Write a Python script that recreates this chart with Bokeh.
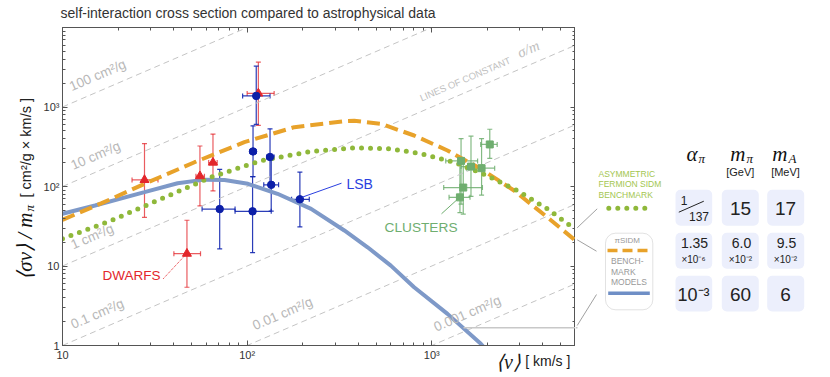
import math
from bokeh.plotting import figure
from bokeh.layouts import row, column
from bokeh.models import (ColumnDataSource, Whisker, TeeHead, Label, BoxAnnotation, Arrow,
                          FixedTicker, CustomJSTickFormatter, LogAxis, Range1d)
from bokeh.embed import file_html
from bokeh.resources import INLINE

# ---------------- data ----------------
# DWARFS (red triangles)
dw_x = [27.8, 47.2, 55.5, 65.3, 115]
dw_y = [121, 14.3, 135, 200, 1480]
dw_ylo = [41, 5.4, 57, 88, 589]
dw_yhi = [347, 37.6, 323, 457, 3660]
dw_xlo = [23.8, 40.1, 52.8, 61.9, 100]
dw_xhi = [32.9, 55.9, 58.7, 68.8, 140]

# LSB (blue circles)
lsb_x = [112, 107.6, 133, 135, 71, 107, 193]
lsb_y = [1380, 276, 235, 105, 52, 48.7, 69]
lsb_ylo = [606, 133, 105, 49, 16.4, 14.7, 31]
lsb_yhi = [3260, 580, 531, 235, 164, 133, 152]
lsb_xlo = [94.5, 103.5, 127.6, 123, 57, 86, 174]
lsb_xhi = [133, 112, 140, 148, 86, 135, 217]

# CLUSTERS (green squares)
cl_x = [1440, 1630, 1860, 2060, 1480, 1420]
cl_y = [210, 178, 170, 338, 97, 73]
cl_ylo = [60, 75, 78, 226, 45, 47]
cl_yhi = [400, 430, 400, 525, 210, 205]
cl_xlo = [1190, 1440, 1540, 1840, 1160, 1240]
cl_xhi = [1770, 1880, 2190, 2260, 1880, 1610]

# benchmark curves
blue_x = [10, 15, 27.8, 42, 58.8, 75.4, 101, 146, 222, 336, 449, 600, 802, 1216, 1842, 2100]
blue_y = [45.4, 57.7, 84.8, 110, 122, 121, 108, 81, 52.4, 28, 17.2, 10.1, 5.41, 2.5, 1.05, 0.75]

orange_x = [10, 16.3, 27.8, 51.9, 96.6, 180, 336, 380, 530, 802, 1216, 1842, 2787, 4217, 6000]
orange_y = [38.1, 61.7, 108, 202, 361, 557, 663, 670, 615, 438, 284, 167, 89, 41.1, 20.9]

green_x = [10, 18.4, 34.3, 63.8, 119, 222, 380, 600, 871, 1320, 2000, 2900, 4217, 5930]
green_y = [22, 37.4, 70, 131, 212, 276, 307, 298, 258, 202, 137, 89, 52.4, 29.4]

# lines of constant sigma/m  [cm^2/g]
sigma_m = [100, 10, 1, 0.1, 0.01, 0.001]
sigma_labels = ["100  cm²/g", "10  cm²/g", "1 cm²/g", "0.1 cm²/g", "0.01 cm²/g", "0.001 cm²/g"]
sigma_label_x = [11.4, 11.6, 11.6, 11.6, 112, 1074]

x_major = [10, 100, 1000]
x_minor = [20, 30, 40, 50, 60, 70, 80, 90, 200, 300, 400, 500, 600, 700, 800, 900,
           2000, 3000, 4000, 5000, 6000]
y_major = [1, 10, 100, 1000]
y_minor = [2, 3, 4, 5, 6, 7, 8, 9, 20, 30, 40, 50, 60, 70, 80, 90,
           200, 300, 400, 500, 600, 700, 800, 900, 2000, 3000, 4000, 5000, 6000, 7000, 8000, 9000]

# table of benchmark parameters
table_cols = ["α", "m", "m"]
table_subs = ["π", "π", "A"]
table_units = ["", "[GeV]", "[MeV]"]
row1 = ["15", "17"]
row2_main = ["1.35", "6.0", "9.5"]
row2_exp = ["×10⁻⁶", "×10⁻²", "×10⁻²"]
row3 = ["10⁻³", "60", "6"]

# ---------------- layout constants (page pixels) ----------------
XMIN, XMAX, YMIN, YMAX = 10, 6000, 1, 10000
PAGE_W, PAGE_H = 828, 375
TOP_H = 27            # title strip height (= frame top)
LEFT_W = 40           # y-label strip width
FRAME_L, FRAME_R, FRAME_B = 61, 575, 345
SANS = "Liberation Sans"
SERIF = "Liberation Serif"
BODY_H = PAGE_H - TOP_H
BOT = PAGE_H - FRAME_B


def blank_fig(w, h, x0, x1, y_top, y_bot, bottom=0):
    f = figure(width=w, height=h, x_range=Range1d(x0, x1), y_range=Range1d(y_bot, y_top),
               x_axis_location=None, y_axis_location=None, output_backend="svg",
               toolbar_location=None, min_border_left=0, min_border_right=0,
               min_border_top=0, min_border_bottom=bottom)
    f.xgrid.visible = False
    f.ygrid.visible = False
    f.outline_line_color = None
    f.background_fill_color = "white"
    f.border_fill_color = "white"
    return f


def lab(f, X, Y, text, size, color, align="left", baseline="middle", font=SANS,
        style="normal", angle=0.0):
    f.add_layout(Label(x=X, y=Y, text=text, text_font=font, text_font_size=f"{size}px",
                       text_color=color, text_align=align, text_baseline=baseline,
                       text_font_style=style, angle=angle))


# ---------------- title strip ----------------
ft = blank_fig(PAGE_W, TOP_H, 0, PAGE_W, 0, TOP_H)
lab(ft, 60, 12.5, "self-interaction cross section compared to astrophysical data", 14, "#333333")

# ---------------- y-label strip ----------------
fl = blank_fig(LEFT_W, BODY_H, 0, LEFT_W, TOP_H, FRAME_B, BOT)
lab(fl, 24, 212, "⟨σv⟩ / m", 21, "#111111", align="right", font=SERIF, style="italic",
    angle=math.pi / 2)
lab(fl, 29, 211, "π", 13, "#111111", align="left", font=SERIF, style="italic",
    angle=math.pi / 2)
lab(fl, 25, 197, "[ cm²/g × km/s ]", 14.5, "#222222", align="left", angle=math.pi / 2)

# ---------------- main plot ----------------
p = figure(width=FRAME_R - LEFT_W, height=BODY_H, x_axis_type="log", y_axis_type="log",
           x_range=(XMIN, XMAX), y_range=(YMIN, YMAX), output_backend="svg",
           toolbar_location=None, min_border_left=FRAME_L - LEFT_W, min_border_right=0,
           min_border_top=0, min_border_bottom=BOT)
p.xgrid.visible = False
p.ygrid.visible = False
p.outline_line_color = "#555555"
p.background_fill_color = "white"
p.border_fill_color = "white"

fmt = CustomJSTickFormatter(code="""
const e = Math.round(Math.log10(tick));
const sup = {2: '\u00b2', 3: '\u00b3', 4: '\u2074'};
if (e <= 1) { return String(Math.round(tick)); }
return '10' + sup[e];
""")


def style_axis(ax):
    ax.major_tick_in = 5
    ax.major_tick_out = 0
    ax.minor_tick_in = 3
    ax.minor_tick_out = 0
    ax.axis_line_color = "#555555"
    ax.major_tick_line_color = "#555555"
    ax.minor_tick_line_color = "#555555"
    ax.major_label_text_font = SANS
    ax.major_label_text_font_size = "11px"
    ax.major_label_text_color = "#333333"
    ax.major_label_standoff = 3


p.xaxis.ticker = FixedTicker(ticks=x_major, minor_ticks=x_minor)
p.yaxis.ticker = FixedTicker(ticks=y_major, minor_ticks=y_minor)
p.xaxis.formatter = fmt
p.yaxis.formatter = fmt
style_axis(p.xaxis[0])
style_axis(p.yaxis[0])

blank = CustomJSTickFormatter(code="return '';")
top_ax = LogAxis(ticker=FixedTicker(ticks=x_major, minor_ticks=x_minor), formatter=blank)
right_ax = LogAxis(ticker=FixedTicker(ticks=y_major, minor_ticks=y_minor), formatter=blank)
for ax in (top_ax, right_ax):
    style_axis(ax)
    ax.major_label_standoff = 0
    ax.major_label_text_font_size = "0px"
right_ax.axis_line_color = "#999999"
p.add_layout(top_ax, "above")
p.add_layout(right_ax, "right")

# x-axis title, drawn as extra (tick-less) axes so it can sit at the right end
XLAB_V_AT = 2600
XLAB_U_AT = 4250
ax_v = LogAxis(ticker=FixedTicker(ticks=[XLAB_V_AT], minor_ticks=[]),
               formatter=CustomJSTickFormatter(code="return '\u27e8v\u27e9';"))
ax_u = LogAxis(ticker=FixedTicker(ticks=[XLAB_U_AT], minor_ticks=[]),
               formatter=CustomJSTickFormatter(code="return '[ km/s ]';"))
for ax, fnt, sty, size, so in ((ax_v, SERIF, "italic", "20px", -13),
                               (ax_u, SANS, "normal", "14px", -23)):
    ax.axis_line_color = None
    ax.major_tick_line_color = None
    ax.minor_tick_line_color = None
    ax.major_tick_in = 0
    ax.major_tick_out = 0
    ax.minor_tick_in = 0
    ax.minor_tick_out = 0
    ax.major_label_text_font = fnt
    ax.major_label_text_font_style = sty
    ax.major_label_text_font_size = size
    ax.major_label_text_color = "#1a1a1a"
    ax.major_label_standoff = so
    p.add_layout(ax, "below")

# lines of constant sigma/m
for k in sigma_m:
    p.line([XMIN, XMAX], [k * XMIN, k * XMAX], line_color="#c4c4c4",
           line_dash="6 4", line_width=1)

ANG = math.atan(((FRAME_B - TOP_H) / math.log10(YMAX / YMIN)) /
                ((FRAME_R - FRAME_L) / math.log10(XMAX / XMIN)))
for k, t, x0 in zip(sigma_m, sigma_labels, sigma_label_x):
    p.add_layout(Label(x=x0, y=k * x0 * 1.28, text=t, angle=ANG,
                       text_font=SANS, text_font_size="13.5px", text_color="#b8b8b8",
                       text_align="left", text_baseline="bottom"))
p.add_layout(Label(x=891, y=891 * 1.25, text="LINES OF CONSTANT", angle=ANG,
                   text_font=SANS, text_font_size="9.5px", text_color="#c0c0c0",
                   text_align="left", text_baseline="bottom"))
p.add_layout(Label(x=3050, y=3050 * 1.25, text="σ/m", angle=ANG,
                   text_font=SERIF, text_font_style="italic", text_font_size="15px",
                   text_color="#c0c0c0", text_align="left", text_baseline="bottom"))

# benchmark curves
p.line(blue_x, blue_y, line_color="#7e99c8", line_width=4)
p.line(orange_x, orange_y, line_color="#e8a22a", line_width=4, line_dash="13 6")
p.line(green_x, green_y, line_color="#8fb83a", line_width=5, line_dash="0 9",
       line_cap="round")


# data with error bars
def errbars(xs, ys, xlo, xhi, ylo, yhi, color, alpha=1.0, lw=1.2):
    src = ColumnDataSource(dict(x=xs, y=ys, xlo=xlo, xhi=xhi, ylo=ylo, yhi=yhi))
    for dim, base, lo, hi in (("height", "x", "ylo", "yhi"), ("width", "y", "xlo", "xhi")):
        p.add_layout(Whisker(source=src, base=base, lower=lo, upper=hi, dimension=dim,
                             line_color=color, line_width=lw, line_alpha=alpha,
                             lower_head=TeeHead(size=5, line_color=color, line_width=lw,
                                                line_alpha=alpha),
                             upper_head=TeeHead(size=5, line_color=color, line_width=lw,
                                                line_alpha=alpha)))
    return src


dw_src = errbars(dw_x, dw_y, dw_xlo, dw_xhi, dw_ylo, dw_yhi, "#e3262b", alpha=0.75)
cl_src = errbars(cl_x, cl_y, cl_xlo, cl_xhi, cl_ylo, cl_yhi, "#6fae6f", alpha=0.85)
lsb_src = errbars(lsb_x, lsb_y, lsb_xlo, lsb_xhi, lsb_ylo, lsb_yhi, "#1428b0", alpha=0.9)

p.scatter("x", "y", source=dw_src, marker="triangle", size=9, color="#e3262b")
p.scatter("x", "y", source=cl_src, marker="square", size=7, color="#6fae6f")
p.scatter("x", "y", source=lsb_src, marker="circle", size=7.5, color="#0c1fa8")


# annotations inside the frame, given in page pixels
def sx(X):
    return X - FRAME_L


def sy(Y):
    return FRAME_B - Y


def plab(X, Y, text, size, color, font=SANS):
    p.add_layout(Label(x=sx(X), y=sy(Y), x_units="screen", y_units="screen", text=text,
                       text_font=font, text_font_size=f"{size}px", text_color=color,
                       text_align="left", text_baseline="middle"))


def pseg(X0, Y0, X1, Y1, color, width=1.0, dash="solid"):
    p.add_layout(Arrow(start=None, end=None, x_start=sx(X0), y_start=sy(Y0), x_end=sx(X1),
                       y_end=sy(Y1), start_units="screen", end_units="screen",
                       line_color=color, line_width=width, line_dash=dash))


plab(101, 275, "DWARFS", 13.5, "#e3262b")
pseg(161.7, 278.3, 185, 253.3, "#e3262b", 1, "1 1")
plab(345, 183, "LSB", 14, "#2a3fe0")
pseg(340, 182.7, 300.7, 196.7, "#2a3fe0", 1)
plab(383, 227, "CLUSTERS", 13.7, "#6fae6f")
pseg(440, 213.3, 458.3, 196.7, "#6fae6f", 1)
pseg(462, 327.3, 576, 327.3, "#c8c8c8", 1.5)

# ---------------- right strip: legend + table ----------------
fr = blank_fig(PAGE_W - FRAME_R, BODY_H, FRAME_R, PAGE_W, TOP_H, FRAME_B, BOT)


def rseg(X0, Y0, X1, Y1, color, width=1.0, dash="solid", cap="butt"):
    fr.line([X0, X1], [Y0, Y1], line_color=color, line_width=width, line_dash=dash,
            line_cap=cap)


def rbox(X0, Y0, X1, Y1, fill, line=None, radius=5):
    fr.add_layout(BoxAnnotation(left=X0, right=X1, top=Y0, bottom=Y1,
                                fill_color=fill, fill_alpha=1.0, line_color=line,
                                line_width=1, border_radius=radius, level="underlay"))


# connectors from curve ends to legend
rseg(575, 327.3, 577, 327.3, "#c8c8c8", 1.5)
rseg(576.7, 227.3, 596.7, 208.3, "#888888", 0.8)
rseg(576.7, 239.3, 596, 250.7, "#888888", 0.8)
rseg(576.7, 325, 596, 294, "#888888", 0.8)

lab(fr, 598, 173, "ASYMMETRIC", 8.5, "#a3c650")
lab(fr, 598, 183.7, "FERMION SIDM", 8.5, "#a3c650")
lab(fr, 598, 194, "BENCHMARK", 8.5, "#a3c650")
rseg(608.3, 207.7, 645, 207.7, "#8fb83a", 5, "0 9", "round")
rbox(605, 232.7, 652.3, 309.3, "white", "#a0a0a0", 10)
lab(fr, 614, 240, "πSIDM", 8, "#999999")
rseg(607, 250, 649, 250, "#e8a22a", 3.5, "10 5")
lab(fr, 610.5, 260.5, "BENCH-", 8.5, "#999999")
lab(fr, 610.5, 271, "MARK", 8.5, "#999999")
lab(fr, 610.5, 281.5, "MODELS", 8.5, "#999999")
rseg(607.7, 292.7, 649.3, 292.7, "#6f8fc6", 3.5)

col_l = [675, 721.3, 766.7]
col_r = [711.7, 758.3, 803.7]
row_t = [189.3, 232.3, 275.3]
row_b = [225.3, 268.3, 311]
for i in range(3):
    for j in range(3):
        rbox(col_l[i], row_t[j], col_r[i], row_b[j], "#eceffc", None, 5)

hdr_x = [697, 745, 787]
for hx, c, s in zip(hdr_x, table_cols, table_subs):
    lab(fr, hx, 153, c, 21, "#111111", align="right", font=SERIF, style="italic")
    lab(fr, hx + 1, 158, s, 13, "#111111", align="left", font=SERIF, style="italic")
lab(fr, 739.8, 171, table_units[1], 11, "#222222", align="center")
lab(fr, 785, 171, table_units[2], 11, "#222222", align="center")

ccx = [693, 740, 785]
# row 1
lab(fr, 683.5, 200, "1", 12, "#222222", align="center")
rseg(678.3, 211.7, 703.3, 200.7, "#222222", 1)
lab(fr, 698.5, 216, "137", 12, "#222222", align="center")
lab(fr, ccx[1], 208, row1[0], 19, "#222222", align="center")
lab(fr, ccx[2], 208, row1[1], 19, "#222222", align="center")
# row 2
for cx, m, e in zip(ccx, row2_main, row2_exp):
    lab(fr, cx + 1, 242, m, 14, "#222222", align="center")
    lab(fr, cx, 259, e, 10, "#222222", align="center")
# row 3
for cx, t in zip(ccx, row3):
    lab(fr, cx, 294, t, 19 if t != row3[0] else 18, "#222222", align="center")

layout = column(ft, row(fl, p, fr))
open("out.html", "w").write(file_html(layout, INLINE))
